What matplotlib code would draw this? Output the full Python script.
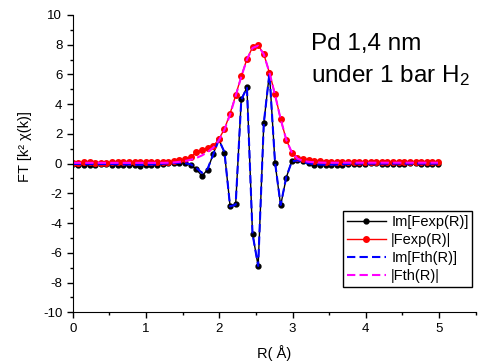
import matplotlib
matplotlib.use("Agg")
import matplotlib.pyplot as plt
from matplotlib.ticker import MultipleLocator

plt.rcParams['font.family'] = ['Liberation Sans', 'DejaVu Sans']
plt.rcParams['mathtext.default'] = 'regular'
plt.rcParams['axes.unicode_minus'] = False

# R grid (Angstrom)
R = [0.000, 0.077, 0.153, 0.230, 0.307, 0.384, 0.460, 0.537, 0.614, 0.690,
     0.767, 0.844, 0.920, 0.997, 1.074, 1.151, 1.227, 1.304, 1.381, 1.457,
     1.534, 1.611, 1.687, 1.764, 1.841, 1.918, 1.994, 2.071, 2.148, 2.224,
     2.301, 2.378, 2.454, 2.531, 2.608, 2.685, 2.761, 2.838, 2.915, 2.991,
     3.068, 3.145, 3.221, 3.298, 3.375, 3.452, 3.528, 3.605, 3.682, 3.758,
     3.835, 3.912, 3.988, 4.065, 4.142, 4.219, 4.295, 4.372, 4.449, 4.525,
     4.602, 4.679, 4.755, 4.832, 4.909, 4.986]

# experiment
im_fexp = [-0.05, -0.06, -0.07, -0.07, -0.06, -0.05, -0.05, -0.06, -0.07, -0.08,
           -0.10, -0.12, -0.13, -0.12, -0.10, -0.06, -0.02, 0.02, 0.05, 0.06,
           0.03, -0.10, -0.38, -0.84, -0.40, 0.65, 1.64, 0.74, -2.85, -2.74,
           4.34, 5.12, -4.70, -6.90, 2.70, 6.09, 0.07, -2.81, -0.94, 0.19,
           0.25, 0.15, 0.02, -0.06, -0.10, -0.12, -0.12, -0.10, -0.07, -0.04,
           -0.02, -0.01, 0.00, 0.01, 0.01, 0.00, -0.01, -0.02, -0.01, 0.00,
           0.01, 0.01, 0.00, -0.01, -0.01, 0.00]
abs_fexp = [0.07, 0.07, 0.08, 0.08, 0.07, 0.07, 0.07, 0.08, 0.08, 0.08,
            0.08, 0.09, 0.09, 0.09, 0.08, 0.08, 0.09, 0.12, 0.16, 0.22,
            0.31, 0.45, 0.76, 0.90, 1.05, 1.17, 1.64, 2.33, 3.37, 4.59,
            5.89, 7.03, 7.82, 7.96, 7.37, 6.11, 4.68, 2.97, 1.62, 0.72,
            0.40, 0.30, 0.24, 0.20, 0.16, 0.14, 0.12, 0.11, 0.10, 0.10,
            0.09, 0.09, 0.09, 0.09, 0.09, 0.09, 0.09, 0.09, 0.09, 0.09,
            0.09, 0.09, 0.09, 0.09, 0.09, 0.09]

# fit
im_fth = [-0.02, -0.03, -0.03, -0.03, -0.03, -0.03, -0.03, -0.03, -0.04, -0.05,
          -0.06, -0.07, -0.08, -0.07, -0.06, -0.04, -0.01, 0.02, 0.04, 0.05,
          0.03, -0.05, -0.28, -0.62, -0.35, 0.62, 1.60, 0.78, -2.88, -2.76,
          4.30, 5.10, -4.72, -6.88, 2.72, 6.07, 0.10, -2.78, -0.90, 0.15,
          0.22, 0.12, 0.02, -0.04, -0.06, -0.07, -0.07, -0.06, -0.04, -0.02,
          -0.01, 0.00, 0.00, 0.00, 0.00, 0.00, 0.00, 0.00, 0.00, 0.00,
          0.00, 0.00, 0.00, 0.00, 0.00, 0.00]
abs_fth = [0.05, 0.05, 0.05, 0.05, 0.05, 0.05, 0.05, 0.05, 0.05, 0.05,
           0.05, 0.05, 0.05, 0.05, 0.05, 0.05, 0.05, 0.06, 0.08, 0.12,
           0.18, 0.26, 0.38, 0.55, 0.78, 1.08, 1.55, 2.28, 3.30, 4.55,
           5.85, 7.00, 7.78, 7.93, 7.35, 6.12, 4.62, 3.00, 1.60, 0.75,
           0.33, 0.18, 0.12, 0.09, 0.07, 0.06, 0.06, 0.06, 0.06, 0.06,
           0.06, 0.06, 0.06, 0.06, 0.06, 0.06, 0.06, 0.06, 0.06, 0.06,
           0.06, 0.06, 0.06, 0.06, 0.06, 0.06]

labels = ["Im[Fexp(R)]", "|Fexp(R)|", "Im[Fth(R)]", "|Fth(R)|"]

fig = plt.figure(figsize=(4.8, 3.64), dpi=100)
ax = fig.add_axes((0.1515, 0.142, 0.8395, 0.817))

ax.plot(R, im_fexp, '-o', color='black', lw=1, ms=3.5, label=labels[0])
ax.plot(R, abs_fexp, '-o', color='red', lw=1, ms=4, label=labels[1])
ax.plot(R, im_fth, '--', color='blue', lw=1.5, dashes=(4, 2), label=labels[2])
ax.plot(R, abs_fth, '--', color='magenta', lw=1.5, dashes=(4, 2), label=labels[3])

ax.set_xlim(0, 5.5)
ax.set_ylim(-10, 10)
ax.xaxis.set_major_locator(MultipleLocator(1))
ax.xaxis.set_minor_locator(MultipleLocator(0.5))
ax.yaxis.set_major_locator(MultipleLocator(2))
ax.yaxis.set_minor_locator(MultipleLocator(1))
ax.tick_params(which='major', direction='out', length=4, width=1, labelsize=9.5)
ax.tick_params(which='minor', direction='out', length=2.5, width=1)
ax.spines['top'].set_visible(False)
ax.spines['right'].set_visible(False)

ax.set_xlabel("R( Å)", fontsize=10.5)
ax.set_ylabel("FT [k² χ(k)]", fontsize=10.5)
ax.xaxis.set_label_coords(0.5, -0.11)
ax.yaxis.set_label_coords(-0.101, 0.556)

fig.text(0.647, 0.8626, "Pd 1,4 nm", fontsize=17.5, va='baseline')
fig.text(0.647, 0.7755, "under 1 bar H$_2$", fontsize=17.5, va='baseline')

leg = ax.legend(loc='lower left', bbox_to_anchor=(0.7146, 0.2115),
                bbox_transform=fig.transFigure, fontsize=10.5, numpoints=1,
                fancybox=False, edgecolor='black', framealpha=1,
                handlelength=2.7, labelspacing=0.28, borderpad=0.25,
                handletextpad=0.35, borderaxespad=0)
leg.get_frame().set_linewidth(1)

fig.savefig("out.png", dpi=100)
